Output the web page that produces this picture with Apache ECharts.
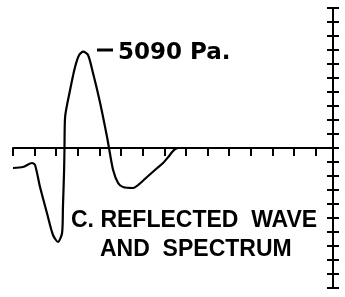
<!DOCTYPE html>
<html>
<head>
<meta charset="utf-8">
<script src="https://cdn.jsdelivr.net/npm/echarts@6/dist/echarts.min.js"></script>
<style>
  html, body { margin: 0; padding: 0; background: #fff; }
  #chart { width: 345px; height: 297px; }
</style>
</head>
<body>
<div id="chart"></div>
<script>
// reflected wave trace, time in tick units, pressure in Pa
const timeData = [0, 0.46, 0.88, 1.02, 1.25, 1.57, 1.85, 2.08, 2.27, 2.31, 2.36, 2.38, 2.41, 2.64, 2.87, 3.06, 3.25, 3.47, 3.70, 4.03, 4.35, 4.44, 4.63, 4.86, 5.09, 5.56, 5.79, 6.20, 6.67, 6.94, 7.18, 7.36, 7.50, 7.64]
const pressureData = [-1057, -1004, -793, -899, -2062, -3436, -4599, -4969, -4493, -3119, -1322, -106, 1639, 3066, 4282, 4916, 5090, 4916, 3965, 2379, 581, 0, -1163, -1850, -2062, -2114, -1956, -1533, -1057, -793, -476, -211, -53, 0]
const peakLabel = '5090 Pa.'
const titleLines = ['C. REFLECTED  WAVE', 'AND  SPECTRUM']

const yMin = -7400, yMax = 7400, yStep = 740

const axisStyle = { color: '#000', width: 2 }

function yAxisOf(inside) {
  return {
    type: 'value',
    position: 'right',
    min: yMin,
    max: yMax,
    interval: yStep,
    axisLine: { show: true, onZero: false, lineStyle: axisStyle },
    axisTick: { show: true, inside: inside, length: 6, lineStyle: axisStyle },
    axisLabel: { show: false },
    splitLine: { show: false }
  }
}

const chart = echarts.init(document.getElementById('chart'))
chart.setOption({
  animation: false,
  grid: { left: 13, right: 12, top: 8, bottom: 9 },
  xAxis: {
    type: 'value',
    min: 0,
    max: 14.8,
    interval: 1,
    axisLine: { show: true, onZero: true, lineStyle: axisStyle },
    axisTick: { show: true, inside: false, length: 8, lineStyle: axisStyle },
    axisLabel: { show: false },
    splitLine: { show: false }
  },
  yAxis: [yAxisOf(true), yAxisOf(false)],
  series: [{
    type: 'line',
    data: timeData.map((t, i) => [t, pressureData[i]]),
    showSymbol: false,
    smooth: 0.25,
    lineStyle: { color: '#000', width: 2.2 }
  }],
  graphic: [
    { type: 'line', shape: { x1: 97, y1: 50, x2: 113, y2: 50 }, style: { stroke: '#000', lineWidth: 3 } },
    { type: 'text', left: 118, top: 42, style: { text: peakLabel, font: 'bold 23px "DejaVu Sans"', fill: '#000' } },
    { type: 'text', left: 71, top: 209, style: { text: titleLines[0], font: 'bold 23px "Liberation Sans"', fill: '#000' } },
    { type: 'text', left: 100, top: 238, style: { text: titleLines[1], font: 'bold 23px "Liberation Sans"', fill: '#000' } }
  ]
})
</script>
</body>
</html>
